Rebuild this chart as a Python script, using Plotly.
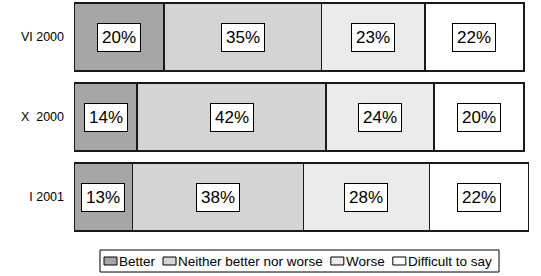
import plotly.graph_objects as go

categories = ["VI 2000", "X\u00a0\u00a02000", "I 2001"]
series_names = ["Better", "Neither better nor worse", "Worse", "Difficult to say"]
better = [20, 14, 13]
neither = [35, 42, 38]
worse = [23, 24, 28]
difficult = [22, 20, 22]
series_values = [better, neither, worse, difficult]
colors = ["#a6a6a6", "#d4d4d4", "#ebebeb", "#ffffff"]

FONT = "Liberation Sans, Arial, sans-serif"

W, H = 541, 276
ML, MR, MT, MB = 74, 0, 0, 39
PW, PH = W - ML - MR, H - MT - MB


def px_x(px):
    return (px - ML) / PW


def px_y(py):
    return (H - MB - py) / PH


fig = go.Figure()
for name, vals, col in zip(series_names, series_values, colors):
    fig.add_trace(go.Bar(
        y=categories, x=vals, name=name, orientation="h",
        marker=dict(color=col, line=dict(color="#1a1a1a", width=1.6)),
        hoverinfo="skip", showlegend=False,
    ))

# value labels in boxes, centred on each segment
annotations = []
for i, cat in enumerate(categories):
    base = 0
    for vals in series_values:
        v = vals[i]
        annotations.append(dict(
            x=base + v / 2, y=cat, xref="x", yref="y",
            text=f"{v}%", showarrow=False,
            font=dict(family=FONT, size=17, color="#000"),
            bgcolor="#ffffff", bordercolor="#000", borderwidth=1, borderpad=4,
        ))
        base += v

# legend drawn as a single boxed row (symbol + label per series)
LEG_FONT = 13.5
shapes = []
legend_left, legend_right, legend_top, legend_bottom = 100, 499, 250, 272
shapes.append(dict(type="rect", xref="paper", yref="paper",
                   x0=px_x(legend_left), x1=px_x(legend_right),
                   y0=px_y(legend_bottom), y1=px_y(legend_top),
                   line=dict(color="#000", width=1), fillcolor="#ffffff", layer="above"))
# approximate Arial text widths (em) for the labels
em = {"Better": 2.668, "Neither better nor worse": 10.726, "Worse": 2.889, "Difficult to say": 6.424}
cx = legend_left + 4
ymid = (legend_top + legend_bottom) / 2
for name, col in zip(series_names, colors):
    shapes.append(dict(type="rect", xref="paper", yref="paper",
                       x0=px_x(cx), x1=px_x(cx + 13),
                       y0=px_y(ymid + 4), y1=px_y(ymid - 4),
                       line=dict(color="#000", width=1), fillcolor=col, layer="above"))
    annotations.append(dict(
        x=px_x(cx + 15), y=px_y(ymid + 0.5), xref="paper", yref="paper",
        xanchor="left", yanchor="middle", text=name, showarrow=False,
        font=dict(family=FONT, size=LEG_FONT, color="#000"),
        borderpad=0, borderwidth=0,
    ))
    cx += 15 + em[name] * LEG_FONT + 8

fig.update_layout(
    width=W, height=H,
    margin=dict(l=ML, r=MR, t=MT, b=MB),
    barmode="stack", bargap=0.15,
    plot_bgcolor="#ffffff", paper_bgcolor="#ffffff",
    font=dict(family=FONT, size=13, color="#000"),
    annotations=annotations,
    shapes=shapes,
    showlegend=False,
    xaxis=dict(range=[0, 103.78], showgrid=False, showticklabels=False,
               zeroline=False, showline=False, fixedrange=True, automargin=False),
    yaxis=dict(type="category", categoryorder="array", categoryarray=categories,
               range=[2.5, -0.4625], showgrid=False, zeroline=False, showline=False,
               ticks="", ticklabelstandoff=9, automargin=False, fixedrange=True,
               tickfont=dict(family=FONT, size=12.5, color="#000")),
)

fig.write_html("out.html", config={"displayModeBar": False, "staticPlot": True},
               post_script="document.body.style.margin='0';document.body.style.overflow='hidden';")
